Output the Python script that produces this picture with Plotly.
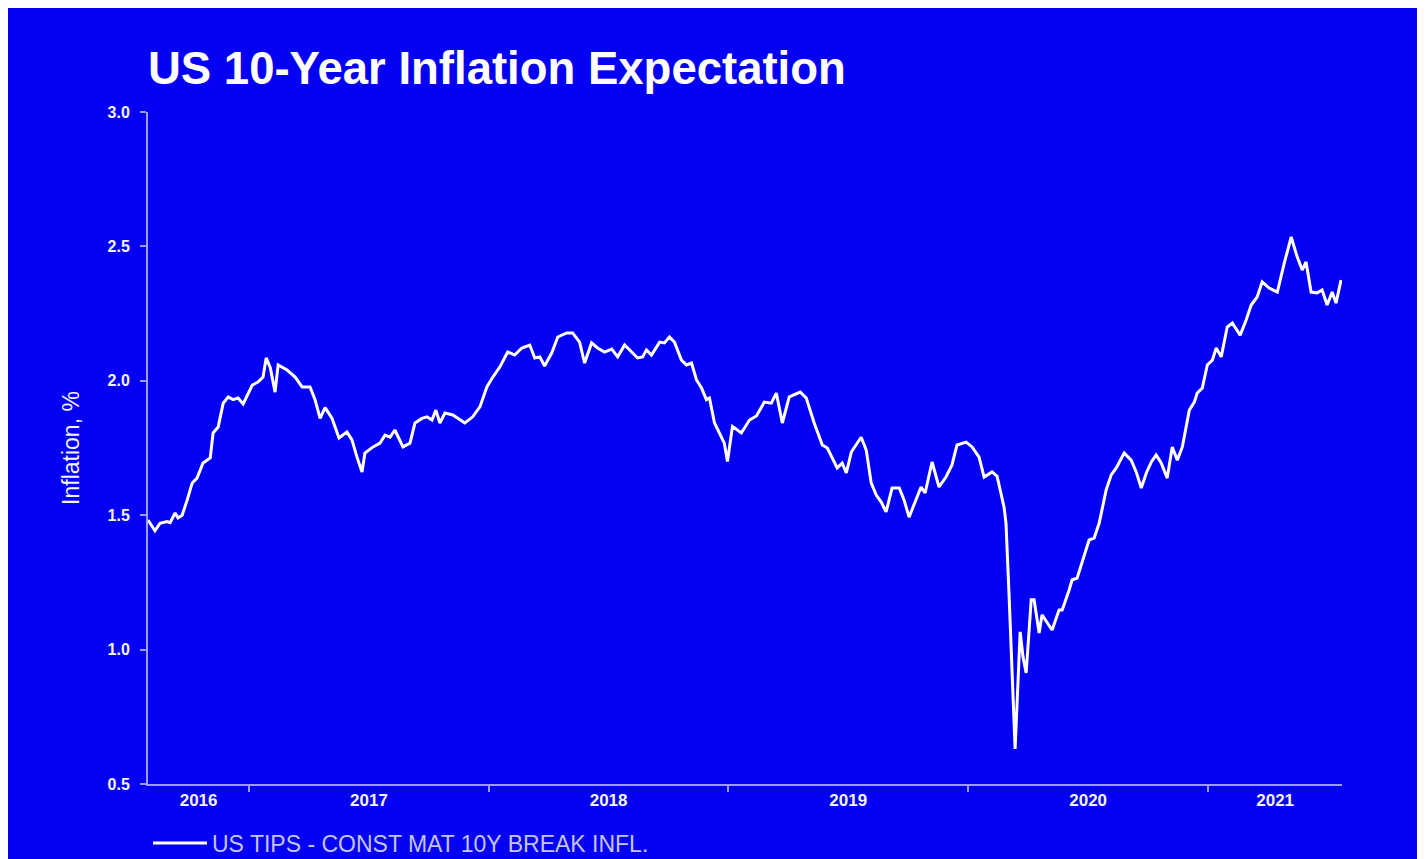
import pandas as pd
import plotly.graph_objects as go

# ---- data -----------------------------------------------------------------
# observation time as decimal year, and 10y breakeven inflation (%)
time_dec = [
    2016.579, 2016.608, 2016.629, 2016.658, 2016.671, 2016.692, 2016.704, 2016.721, 2016.742, 2016.763,
    2016.783, 2016.808, 2016.838, 2016.850, 2016.871, 2016.892, 2016.913, 2016.933, 2016.954, 2016.975,
    2017.013, 2017.038, 2017.058, 2017.071, 2017.088, 2017.108, 2017.121, 2017.158, 2017.192, 2017.221,
    2017.254, 2017.275, 2017.296, 2017.317, 2017.346, 2017.375, 2017.408, 2017.429, 2017.450, 2017.471,
    2017.483, 2017.517, 2017.546, 2017.567, 2017.588, 2017.608, 2017.642, 2017.671, 2017.692, 2017.721,
    2017.742, 2017.763, 2017.779, 2017.796, 2017.817, 2017.850, 2017.900, 2017.933, 2017.963, 2017.992,
    2018.017, 2018.046, 2018.079, 2018.108, 2018.138, 2018.171, 2018.192, 2018.213, 2018.233, 2018.263,
    2018.288, 2018.325, 2018.350, 2018.379, 2018.400, 2018.429, 2018.454, 2018.483, 2018.513, 2018.538,
    2018.567, 2018.596, 2018.621, 2018.642, 2018.658, 2018.679, 2018.713, 2018.733, 2018.754, 2018.775,
    2018.804, 2018.825, 2018.846, 2018.867, 2018.888, 2018.908, 2018.921, 2018.942, 2018.963, 2018.983,
    2018.996, 2019.017, 2019.054, 2019.088, 2019.117, 2019.150, 2019.179, 2019.200, 2019.225, 2019.254,
    2019.300, 2019.325, 2019.358, 2019.392, 2019.413, 2019.433, 2019.454, 2019.475, 2019.492, 2019.513,
    2019.533, 2019.554, 2019.575, 2019.596, 2019.617, 2019.638, 2019.658, 2019.683, 2019.713, 2019.733,
    2019.754, 2019.783, 2019.804, 2019.821, 2019.850, 2019.879, 2019.908, 2019.933, 2019.954, 2019.992,
    2020.017, 2020.046, 2020.067, 2020.100, 2020.121, 2020.150, 2020.158, 2020.171, 2020.196, 2020.217,
    2020.229, 2020.242, 2020.263, 2020.275, 2020.296, 2020.308, 2020.329, 2020.350, 2020.379, 2020.392,
    2020.421, 2020.433, 2020.454, 2020.475, 2020.504, 2020.525, 2020.546, 2020.575, 2020.596, 2020.617,
    2020.650, 2020.679, 2020.700, 2020.721, 2020.742, 2020.763, 2020.783, 2020.804, 2020.829, 2020.850,
    2020.871, 2020.892, 2020.921, 2020.942, 2020.954, 2020.975, 2020.996, 2021.017, 2021.033, 2021.054,
    2021.079, 2021.100, 2021.133, 2021.158, 2021.179, 2021.204, 2021.225, 2021.254, 2021.288, 2021.317,
    2021.346, 2021.371, 2021.392, 2021.408, 2021.429, 2021.454, 2021.475, 2021.496, 2021.517, 2021.533,
    2021.554,
]

breakeven = [
    1.482, 1.442, 1.470, 1.476, 1.472, 1.508, 1.490, 1.500, 1.556, 1.620,
    1.638, 1.694, 1.713, 1.806, 1.828, 1.917, 1.940, 1.930, 1.936, 1.914,
    1.984, 1.996, 2.014, 2.085, 2.050, 1.958, 2.059, 2.040, 2.014, 1.977,
    1.977, 1.930, 1.860, 1.900, 1.860, 1.787, 1.810, 1.780, 1.716, 1.661,
    1.731, 1.754, 1.768, 1.798, 1.790, 1.817, 1.754, 1.768, 1.843, 1.860,
    1.866, 1.854, 1.891, 1.843, 1.880, 1.873, 1.843, 1.866, 1.903, 1.977,
    2.014, 2.051, 2.107, 2.096, 2.122, 2.133, 2.085, 2.089, 2.055, 2.104,
    2.163, 2.178, 2.178, 2.144, 2.066, 2.141, 2.122, 2.107, 2.118, 2.089,
    2.133, 2.107, 2.085, 2.089, 2.115, 2.096, 2.144, 2.141, 2.163, 2.144,
    2.077, 2.059, 2.066, 2.003, 1.973, 1.930, 1.936, 1.843, 1.806, 1.768,
    1.700, 1.830, 1.806, 1.854, 1.869, 1.921, 1.917, 1.954, 1.843, 1.940,
    1.958, 1.936, 1.843, 1.761, 1.750, 1.716, 1.676, 1.694, 1.657, 1.735,
    1.761, 1.790, 1.743, 1.620, 1.575, 1.549, 1.512, 1.601, 1.601, 1.557,
    1.493, 1.557, 1.605, 1.583, 1.698, 1.605, 1.642, 1.687, 1.761, 1.772,
    1.754, 1.716, 1.642, 1.661, 1.645, 1.530, 1.471, 1.200, 0.630, 1.066,
    0.972, 0.913, 1.185, 1.185, 1.062, 1.129, 1.103, 1.073, 1.147, 1.147,
    1.222, 1.259, 1.266, 1.322, 1.408, 1.415, 1.471, 1.594, 1.650, 1.676,
    1.731, 1.705, 1.661, 1.601, 1.657, 1.698, 1.724, 1.694, 1.638, 1.754,
    1.705, 1.754, 1.891, 1.921, 1.954, 1.973, 2.059, 2.077, 2.122, 2.089,
    2.200, 2.215, 2.170, 2.226, 2.282, 2.312, 2.368, 2.345, 2.330, 2.438,
    2.535, 2.461, 2.412, 2.442, 2.330, 2.327, 2.338, 2.282, 2.330, 2.289,
    2.375,
]

year_labels = ["2016", "2017", "2018", "2019", "2020", "2021"]
y_ticks = [0.5, 1.0, 1.5, 2.0, 2.5, 3.0]
x_span = [2016.579, 2021.558]

series_name = "US TIPS - CONST MAT 10Y BREAK INFL."
title_text = "US 10-Year Inflation Expectation"
y_title = "Inflation, %"


# ---- helpers ----------------------------------------------------------------
def dec_to_date(d):
    y = int(d)
    start = pd.Timestamp(y, 1, 1)
    end = pd.Timestamp(y + 1, 1, 1)
    return start + (end - start) * (d - y)


dates = [dec_to_date(d) for d in time_dec]
x0, x1 = dec_to_date(x_span[0]), dec_to_date(x_span[1])

# year labels centred in the visible part of each year
label_pos = []
for yl in year_labels:
    ys = pd.Timestamp(int(yl), 1, 1)
    ye = pd.Timestamp(int(yl) + 1, 1, 1)
    lo, hi = max(ys, x0), min(ye, x1)
    label_pos.append(lo + (hi - lo) / 2)
year_bounds = [pd.Timestamp(int(yl), 1, 1) for yl in year_labels[1:]]

BG = "#0400F4"
AXIS = "#9C9CFF"
TXT = "#F4F4FF"
FONT = "Liberation Sans, Arial, sans-serif"

W, H = 1409, 851

fig = go.Figure()
fig.add_trace(go.Scatter(
    x=dates, y=breakeven, mode="lines", name=series_name,
    line=dict(color="#FFFFFF", width=3),
))

fig.update_layout(
    width=W, height=H,
    paper_bgcolor=BG, plot_bgcolor=BG,
    margin=dict(l=140, r=75, t=104, b=75),
    font=dict(family=FONT, color=TXT),
    title=dict(
        text=title_text, x=140 / W, xanchor="left", xref="container",
        y=1 - 60 / H, yanchor="middle",
        font=dict(size=45.5, family=FONT, color="#FFFFFF", weight="bold"),
    ),
    showlegend=True,
    legend=dict(
        orientation="h", xref="paper", x=0, xanchor="left",
        yref="container", y=1 - 835 / H, yanchor="middle",
        bgcolor="rgba(0,0,0,0)", font=dict(size=23, color="#C4C4F4", family=FONT),
        itemwidth=54,
    ),
    xaxis=dict(
        type="date", range=[x0, x1],
        showgrid=False, zeroline=False,
        showline=True, linecolor=AXIS, linewidth=2,
        tickmode="array", tickvals=label_pos, ticktext=year_labels, ticks="",
        tickfont=dict(size=17, color=TXT, family=FONT, weight="bold"),
        minor=dict(tickmode="array", tickvals=year_bounds, ticks="outside",
                   ticklen=6, tickwidth=2, tickcolor=AXIS, showgrid=False),
    ),
    yaxis=dict(
        range=[0.5, 3.0], tickmode="array", tickvals=y_ticks,
        ticktext=[f"{v:.1f}" for v in y_ticks],
        showgrid=False, zeroline=False,
        showline=True, linecolor=AXIS, linewidth=2,
        ticks="outside", ticklen=6, tickwidth=2, tickcolor=AXIS,
        ticklabelstandoff=7,
        tickfont=dict(size=16, color=TXT, family=FONT, weight="bold"),
        title=dict(text=y_title, standoff=21,
                   font=dict(size=23, color=TXT, family=FONT)),
    ),
)

fig.write_html("out.html")
